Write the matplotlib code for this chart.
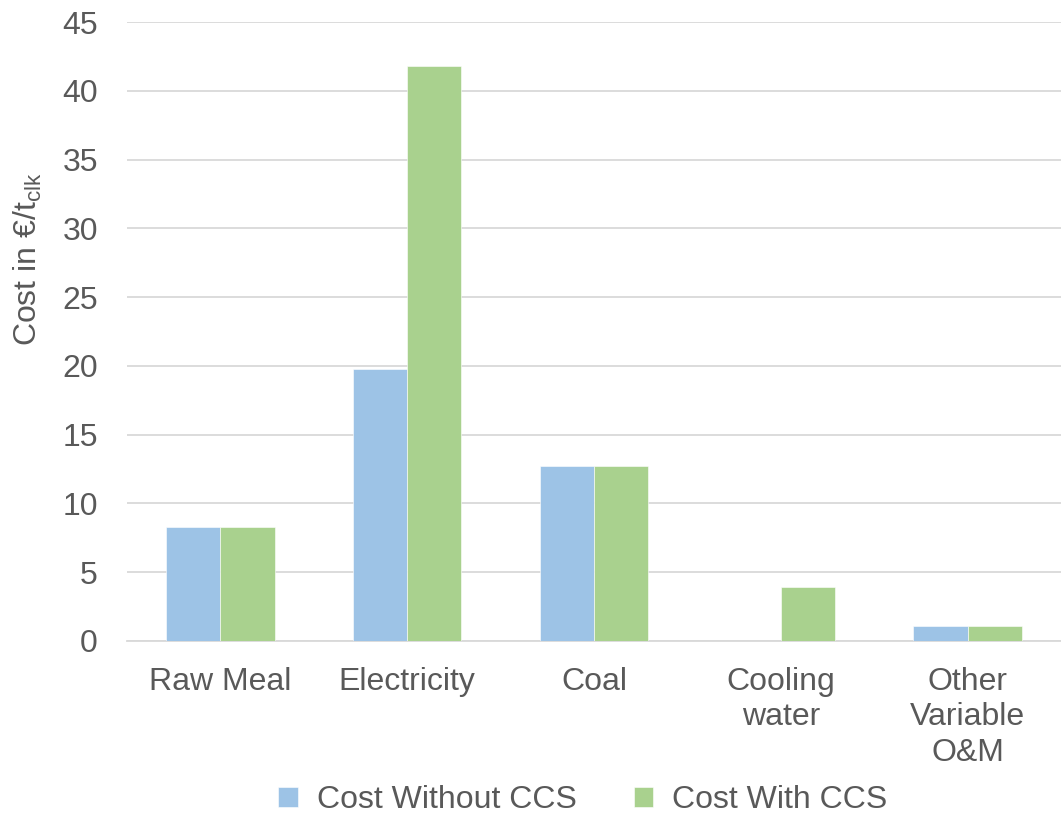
import numpy as np
import matplotlib.pyplot as plt

plt.rcParams['font.family'] = ['Liberation Sans', 'DejaVu Sans']

categories = ["Raw Meal", "Electricity", "Coal", "Cooling\nwater", "Other\nVariable\nO&M"]
cost_without_ccs = [8.3, 19.8, 12.7, 0.0, 1.1]
cost_with_ccs = [8.3, 41.8, 12.7, 3.95, 1.1]

text_color = "#595959"
grid_color = "#D9D9D9"

fig = plt.figure(figsize=(10.61, 8.15), dpi=100)
ax = fig.add_axes([0.1197, 0.2135, 0.8803, 0.7595])

x = np.arange(len(categories))
w = 0.29
ax.bar(x - w / 2, cost_without_ccs, w, color="#9DC3E6", label="Cost Without CCS",
       edgecolor="white", linewidth=0.4, zorder=3)
ax.bar(x + w / 2, cost_with_ccs, w, color="#A9D18E", label="Cost With CCS",
       edgecolor="white", linewidth=0.4, zorder=3)

ax.set_xlim(-0.5, len(categories) - 0.5)
ax.set_ylim(0, 45)
ax.set_yticks(np.arange(0, 46, 5))
ax.set_xticks(x)
ax.set_xticklabels(categories, fontsize=23, color=text_color, linespacing=1.22, va="top")
ax.tick_params(axis="y", labelsize=23, labelcolor=text_color, length=0, pad=21)
ax.tick_params(axis="x", length=0, pad=19)

ax.grid(axis="y", color=grid_color, linewidth=1.3, zorder=0)
for s in ["top", "right", "left"]:
    ax.spines[s].set_visible(False)
ax.spines["bottom"].set_color(grid_color)
ax.spines["bottom"].set_linewidth(1.3)

ax.set_ylabel("Cost in €/t$_{\\mathregular{clk}}$", fontsize=23, color=text_color)
ax.yaxis.set_label_coords(-0.089, 0.617)

leg = fig.legend(loc="center", bbox_to_anchor=(0.5495, 0.0185), ncol=2, frameon=False,
                 fontsize=23, handlelength=0.6, handleheight=0.6, columnspacing=1.8,
                 handletextpad=0.6)
for t in leg.get_texts():
    t.set_color(text_color)

fig.savefig("out.png", dpi=100)
